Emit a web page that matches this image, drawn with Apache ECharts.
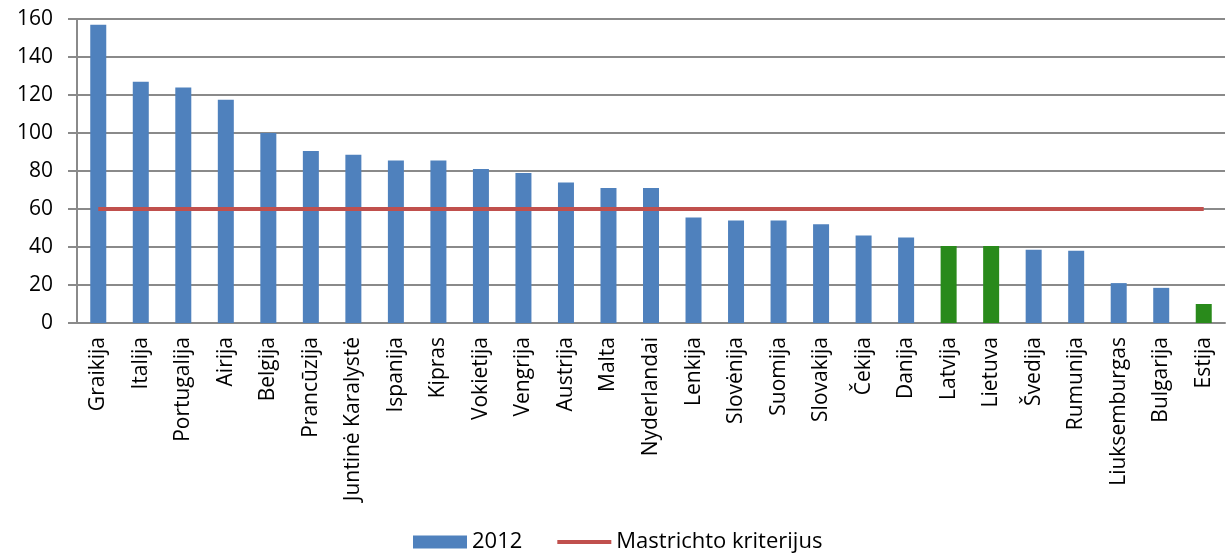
<!DOCTYPE html>
<html>
<head>
<meta charset="utf-8">
<script src="https://cdn.jsdelivr.net/npm/echarts@6/dist/echarts.min.js"></script>
<style>
  html, body { margin: 0; padding: 0; background: #fff; }
  #chart { width: 1230px; height: 554px; }
</style>
</head>
<body>
<div id="chart"></div>
<script>
var countries = ['Graikija', 'Italija', 'Portugalija', 'Airija', 'Belgija', 'Prancūzija', 'Juntinė Karalystė',
    'Ispanija', 'Kipras', 'Vokietija', 'Vengrija', 'Austrija', 'Malta', 'Nyderlandai', 'Lenkija', 'Slovėnija',
    'Suomija', 'Slovakija', 'Čekija', 'Danija', 'Latvija', 'Lietuva', 'Švedija', 'Rumunija', 'Liuksemburgas',
    'Bulgarija', 'Estija'];
var debt2012 = [157, 127, 124, 117.5, 100, 90.5, 88.5, 85.5, 85.5, 81, 79, 74, 71, 71, 55.5, 54, 54, 52,
    46, 45, 40.5, 40.5, 38.5, 38, 21, 18.5, 10];
var criterion = [60, 60, 60, 60, 60, 60, 60, 60, 60, 60, 60, 60, 60, 60, 60, 60, 60, 60, 60, 60, 60, 60, 60,
    60, 60, 60, 60];
var balticStates = ['Latvija', 'Lietuva', 'Estija'];
var yTicks = [0, 20, 40, 60, 80, 100, 120, 140, 160];

var blue = '#4f81bd';
var green = '#298a1b';
var red = '#c0504d';
var gridGrey = '#8a8a8a';
var font = 'Open Sans';

function buildBarData() {
    var out = [];
    for (var i = 0; i < countries.length; i++) {
        var item = { value: debt2012[i] };
        if (balticStates.indexOf(countries[i]) >= 0) {
            item.itemStyle = { color: green };
        }
        out.push(item);
    }
    return out;
}

var chart = echarts.init(document.getElementById('chart'));
var option = {
    animation: false,
    grid: { left: 77, right: 5, top: 19, bottom: 231 },
    legend: {
        left: 408,
        top: 526,
        itemWidth: 54,
        itemHeight: 13,
        itemGap: 33,
        textStyle: { fontFamily: font, fontSize: 22, color: '#000' },
        data: [
            { name: '2012', icon: 'rect' },
            { name: 'Mastrichto kriterijus', itemStyle: { opacity: 0 }, lineStyle: { width: 4, color: red } }
        ]
    },
    xAxis: {
        type: 'category',
        data: countries,
        boundaryGap: true,
        axisLine: { lineStyle: { color: gridGrey, width: 2 } },
        axisTick: { length: 7, lineStyle: { color: gridGrey, width: 2 } },
        axisLabel: {
            rotate: 90,
            interval: 0,
            margin: 14,
            fontFamily: font,
            fontSize: 21,
            color: '#000'
        }
    },
    yAxis: {
        type: 'value',
        min: 0,
        max: yTicks[yTicks.length - 1],
        interval: 20,
        axisLine: { show: true, lineStyle: { color: gridGrey, width: 2 } },
        axisTick: { show: true, length: 9, lineStyle: { color: gridGrey, width: 2 } },
        splitLine: { lineStyle: { color: gridGrey, width: 2 } },
        axisLabel: { margin: 24, fontFamily: font, fontSize: 21, color: '#000' }
    },
    series: [
        {
            name: '2012',
            type: 'bar',
            barWidth: 16,
            itemStyle: { color: blue },
            data: buildBarData()
        },
        {
            name: 'Mastrichto kriterijus',
            type: 'line',
            symbol: 'none',
            lineStyle: { color: red, width: 4 },
            itemStyle: { color: red },
            data: criterion
        }
    ]
};
chart.setOption(option);
</script>
</body>
</html>
